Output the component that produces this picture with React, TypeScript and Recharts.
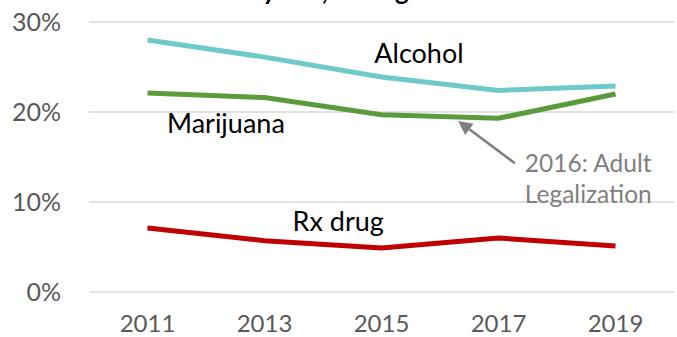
import React from 'react';
import { LineChart, Line, XAxis, YAxis, CartesianGrid, ReferenceDot, ReferenceLine } from 'recharts';

const YEARS = [2011, 2013, 2015, 2017, 2019];
const ALCOHOL = [0.28, 0.261, 0.239, 0.224, 0.229];
const MARIJUANA = [0.221, 0.216, 0.197, 0.193, 0.22];
const RX_DRUG = [0.071, 0.057, 0.049, 0.06, 0.051];
const Y_TICKS = [0, 0.1, 0.2, 0.3];

const data = YEARS.map((year, i) => ({
  year,
  alcohol: ALCOHOL[i],
  marijuana: MARIJUANA[i],
  rx: RX_DRUG[i],
}));

const FONT = 'Lato, "Open Sans", sans-serif';

// series name labels drawn in data coordinates
const SERIES_LABELS = [
  { text: 'Alcohol', x: 2015.64, y: 0.266 },
  { text: 'Marijuana', x: 2012.34, y: 0.188 },
  { text: 'Rx drug', x: 2014.26, y: 0.079 },
];

const NOTE_LINES = [
  { text: '2016: Adult', x: 2017.45, y: 0.144 },
  { text: 'Legalization', x: 2017.45, y: 0.11 },
];

const ARROW = [
  { x: 2017.28, y: 0.143 },
  { x: 2016.31, y: 0.19 },
];

const Arrow = (props: any) => {
  const { x1, y1, x2, y2 } = props;
  const a = Math.atan2(y2 - y1, x2 - x1);
  const len = 14;
  const w = 7;
  const bx = x2 - len * Math.cos(a);
  const by = y2 - len * Math.sin(a);
  const px = -Math.sin(a) * w;
  const py = Math.cos(a) * w;
  return (
    <g>
      <line x1={x1} y1={y1} x2={bx} y2={by} stroke="#7f7f7f" strokeWidth={2.5} />
      <polygon points={`${x2},${y2} ${bx + px},${by + py} ${bx - px},${by - py}`} fill="#7f7f7f" />
    </g>
  );
};

const App: React.FC = () => {
  return (
    <div style={{ position: 'absolute', left: 0, top: 0, background: '#fff' }}>
      <LineChart width={677} height={337} data={data} margin={{ top: 22, right: 3, left: 0, bottom: 0 }}>
        <text x={310} y={0} textAnchor="middle" fontFamily={FONT} fontWeight={700} fontSize={26} fill="#000">
          Past 30-day use, 10th graders
        </text>
        <CartesianGrid vertical={false} stroke="#d9d9d9" strokeWidth={1.5} />
        <XAxis
          dataKey="year"
          type="number"
          domain={[2010, 2020]}
          ticks={YEARS}
          axisLine={false}
          tickLine={false}
          tickMargin={17}
          height={45}
          tick={{ fill: '#595959', fontSize: 24, fontFamily: FONT }}
        />
        <YAxis
          domain={[0, 0.3]}
          ticks={Y_TICKS}
          width={89}
          axisLine={false}
          tickLine={false}
          tickMargin={22}
          tickFormatter={(v: number) => `${Math.round(v * 100)}%`}
          tick={{ fill: '#595959', fontSize: 25, fontFamily: FONT }}
        />
        <Line dataKey="alcohol" stroke="#6ec9ca" strokeWidth={5} dot={false} isAnimationActive={false} />
        <Line dataKey="marijuana" stroke="#5b9b3b" strokeWidth={5} dot={false} isAnimationActive={false} />
        <Line dataKey="rx" stroke="#c00000" strokeWidth={5} dot={false} isAnimationActive={false} />
        <ReferenceLine segment={ARROW} shape={<Arrow />} />
        {SERIES_LABELS.map((l) => (
          <ReferenceDot
            key={l.text}
            x={l.x}
            y={l.y}
            shape={(p: any) => (
              <text x={p.cx} y={p.cy} textAnchor="middle" dominantBaseline="central" fontFamily={FONT} fontSize={27} fill="#000">
                {l.text}
              </text>
            )}
          />
        ))}
        {NOTE_LINES.map((l) => (
          <ReferenceDot
            key={l.text}
            x={l.x}
            y={l.y}
            shape={(p: any) => (
              <text x={p.cx} y={p.cy} textAnchor="start" dominantBaseline="central" fontFamily={FONT} fontSize={24.5} fill="#7f7f7f">
                {l.text}
              </text>
            )}
          />
        ))}
      </LineChart>
    </div>
  );
};

export default App;
